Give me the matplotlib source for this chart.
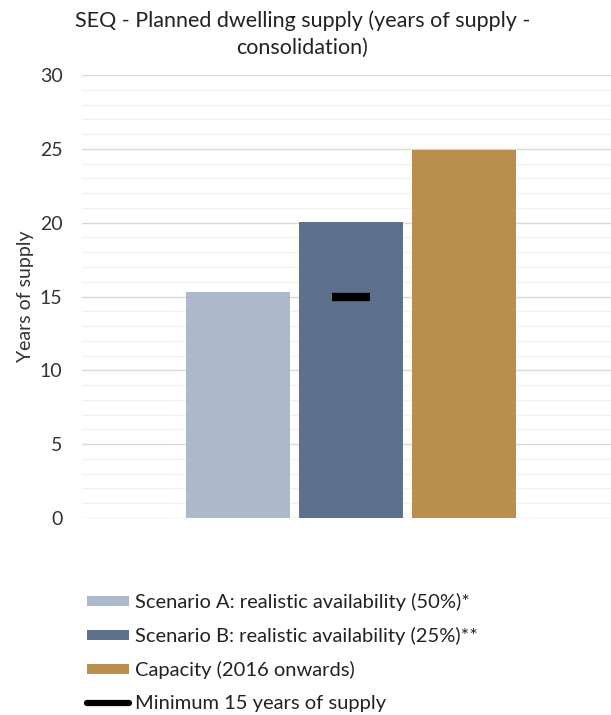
import matplotlib.pyplot as plt
from matplotlib.lines import Line2D
from matplotlib.ticker import MultipleLocator

plt.rcParams['font.family'] = ['Lato', 'DejaVu Sans']

labels = ["Scenario A: realistic availability (50%)*",
          "Scenario B: realistic availability (25%)**",
          "Capacity (2016 onwards)"]
values = [15.3, 20.05, 24.9]
colors = ["#ADB8CA", "#5D718C", "#BA8E4C"]
minimum = 15
min_label = "Minimum 15 years of supply"

fig = plt.figure(figsize=(6.11, 7.15), dpi=100)
ax = fig.add_axes([0.134, 0.2755, 0.866, 0.6196])

handles = []
for i in range(len(values)):
    b = ax.bar(i, values[i], width=0.92, color=colors[i], label=labels[i], zorder=3)
    handles.append(b)

# minimum line marker on scenario B
ax.plot([1], [minimum], marker="_", markersize=28, markeredgewidth=6,
        color="black", zorder=4)
handles.append(Line2D([], [], color="black", linewidth=4.5, solid_capstyle="round"))

ax.set_ylim(0, 30)
ax.set_xlim(-1.38, 3.3)
ax.yaxis.set_major_locator(MultipleLocator(5))
ax.yaxis.set_minor_locator(MultipleLocator(1))
ax.grid(axis="y", which="major", color="#D9D9D9", linewidth=1, zorder=0)
ax.grid(axis="y", which="minor", color="#F2F2F2", linewidth=1, zorder=0)
ax.set_xticks([])
ax.tick_params(axis="y", which="both", length=0, labelsize=14, pad=14, colors="#333333")
for s in ax.spines.values():
    s.set_visible(False)
ax.set_ylabel("Years of supply", fontsize=14, color="#333333", labelpad=4)

fig.text(0.495, 0.986, "SEQ - Planned dwelling supply (years of supply -\nconsolidation)",
         ha="center", va="top", fontsize=15.5, color="#222222", linespacing=1.45)

fig.legend(handles, labels + [min_label], loc="upper left",
           bbox_to_anchor=(0.142, 0.171), frameon=False, fontsize=14.5,
           handlelength=2.1, handleheight=0.4, handletextpad=0.3,
           labelspacing=0.8, borderaxespad=0, borderpad=0, labelcolor="#222222")

fig.savefig("out.png", dpi=100)
